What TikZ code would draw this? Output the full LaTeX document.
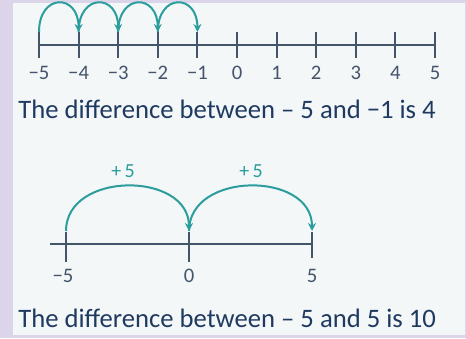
\documentclass[tikz,border=0pt]{standalone}
\usepackage{fontspec}
\setmainfont{Carlito}
\usetikzlibrary{arrows.meta}
\definecolor{lav}{HTML}{DCD5E9}
\definecolor{panel}{HTML}{F4F7F8}
\definecolor{teal}{HTML}{2A9D9C}
\definecolor{axis}{HTML}{44546A}
\definecolor{txt}{HTML}{1F3A60}
\tikzset{
  axisline/.style={draw=axis, line width=1.5pt},
  tickline/.style={draw=axis, line width=1.5pt},
  jump/.style={draw=teal, line width=1.5pt, -{Stealth[length=6pt,width=6pt]}},
  numlab/.style={text=axis, font=\fontsize{15.5pt}{18pt}\selectfont, inner sep=0pt, anchor=base},
  steplab/.style={text=teal, font=\fontsize{15pt}{18pt}\selectfont, inner sep=0pt, anchor=base},
  sentence/.style={text=txt, font=\fontsize{20pt}{24pt}\selectfont, inner sep=0pt, anchor=base west}
}
\begin{document}
\begin{tikzpicture}[x=0.75pt,y=-0.75pt]
\useasboundingbox (0,0) rectangle (466,338);
\fill[lav] (0,0) rectangle (466,338);
\fill[panel] (13,3) rectangle (465,335);
% top number line
\draw[axisline] (39,45) -- (435,45);
\foreach \i [count=\k from 0] in {-5,...,5}{
  \coordinate (t\k) at ({39+39.6*\k},32);
  \draw[tickline] ({39+39.6*\k},32) -- ({39+39.6*\k},58);
  \node[numlab] (n\k) at ({39+39.6*\k},80) {\ifnum\i<0 −\the\numexpr-\i\relax\else\i\fi};
}
\foreach \a/\b in {0/1,1/2,2/3,3/4}{
  \draw[jump] (t\a) .. controls ++(0,-39) and ([yshift=29pt]t\b) .. (t\b);
}
\node[sentence] (s1) at (18,119) {The difference between – 5 and −1 is 4};
% bottom number line
\draw[axisline] (50,244) -- (312,244);
\coordinate (b0) at (66,231);
\coordinate (b1) at (189,231);
\coordinate (b2) at (312,231);
\draw[tickline] (66,232) -- (66,262);
\draw[tickline] (189,232) -- (189,262);
\draw[tickline] (312,232) -- (312,258);
\node[numlab] (m0) at (63,282) {−5};
\node[numlab] (m1) at (189,282) {0};
\node[numlab] (m2) at (312,282) {5};
\draw[jump] (b0) .. controls (66,171) and (189,171) .. (b1);
\draw[jump] (b1) .. controls (189,171) and (312,171) .. (b2);
\node[steplab] (p1) at (123,177) {+\,5};
\node[steplab] (p2) at (251,177) {+\,5};
\node[sentence] (s2) at (18,327) {The difference between – 5 and 5 is 10};
\end{tikzpicture}
\end{document}
